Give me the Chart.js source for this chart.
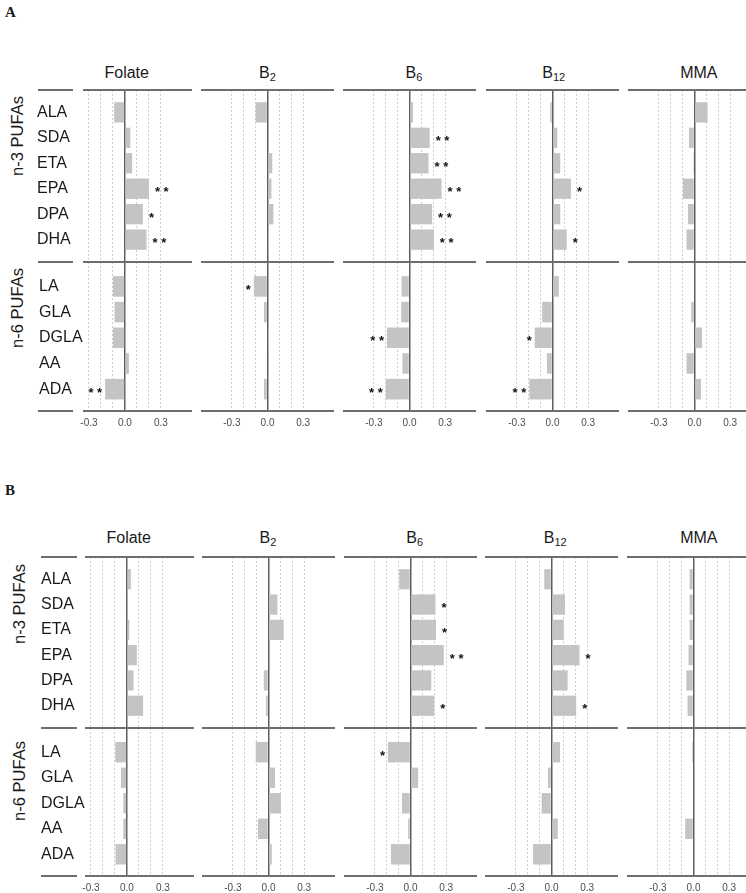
<!DOCTYPE html>
<html>
<head>
<meta charset="utf-8">
<script src="https://cdn.jsdelivr.net/npm/chart.js@4/dist/chart.umd.min.js"></script>
<style>
  html, body { margin: 0; padding: 0; background: #fff; }
  #root { position: relative; width: 746px; height: 893px; overflow: hidden;
          font-family: 'Liberation Sans', Arial, sans-serif; color: #1a1a1a; }
  .hline { position: absolute; height: 2px; background: #6e6e6e; }
  .title { position: absolute; width: 160px; text-align: center; font-size: 16px; line-height: 20px; white-space: nowrap; }
  .title sub { font-size: 11px; vertical-align: -3px; line-height: 0; }
  .glabel { position: absolute; font-size: 16.5px; white-space: nowrap; transform: translate(-50%, -50%) rotate(-90deg); }
  .letter { position: absolute; font-family: 'Liberation Serif', 'Times New Roman', serif; font-weight: bold; font-size: 15px; }
</style>
</head>
<body>
<div id="root"></div>
<script>
// ---------------- DATA ----------------
const fattyAcidsN3 = ['ALA', 'SDA', 'ETA', 'EPA', 'DPA', 'DHA'];
const fattyAcidsN6 = ['LA', 'GLA', 'DGLA', 'AA', 'ADA'];
const groupNames = ['n-3 PUFAs', 'n-6 PUFAs'];
const vitaminNames = ['Folate', 'B2', 'B6', 'B12', 'MMA'];
const panelNames = ['A', 'B'];
const xTickValues = [-0.3, -0.2, -0.1, 0, 0.1, 0.2, 0.3];
const xTickLabels = ['-0.3', '', '', '0.0', '', '', '0.3'];

// Panel A — order: ALA, SDA, ETA, EPA, DPA, DHA, LA, GLA, DGLA, AA, ADA
const A_Folate = [-0.09, 0.045, 0.06, 0.20, 0.15, 0.18, -0.10, -0.087, -0.10, 0.033, -0.165];
const A_B2     = [-0.10, 0.0, 0.04, 0.033, 0.05, 0.01, -0.115, -0.03, 0.01, 0.0, -0.03];
const A_B6     = [0.03, 0.17, 0.16, 0.27, 0.19, 0.205, -0.067, -0.07, -0.19, -0.06, -0.20];
const A_B12    = [-0.02, 0.04, 0.065, 0.155, 0.065, 0.12, 0.053, -0.087, -0.15, -0.047, -0.195];
const A_MMA    = [0.11, -0.047, -0.01, -0.097, -0.055, -0.067, 0.0, -0.028, 0.064, -0.067, 0.055];

const A_Folate_sig = ['', '', '', '**', '*', '**', '', '', '', '', '**'];
const A_B2_sig     = ['', '', '', '', '', '', '*', '', '', '', ''];
const A_B6_sig     = ['', '**', '**', '**', '**', '**', '', '', '**', '', '**'];
const A_B12_sig    = ['', '', '', '*', '', '*', '', '', '*', '', '**'];
const A_MMA_sig    = ['', '', '', '', '', '', '', '', '', '', ''];

// Panel B
const B_Folate = [0.033, 0.0, 0.02, 0.083, 0.055, 0.135, -0.097, -0.05, -0.03, -0.03, -0.095];
const B_B2     = [0.0, 0.075, 0.128, 0.0, -0.04, -0.022, -0.108, 0.055, 0.105, -0.089, 0.028];
const B_B6     = [-0.095, 0.21, 0.215, 0.28, 0.175, 0.20, -0.19, 0.064, -0.072, -0.02, -0.165];
const B_B12    = [-0.061, 0.114, 0.103, 0.236, 0.136, 0.208, 0.072, -0.03, -0.083, 0.053, -0.155];
const B_MMA    = [-0.033, -0.033, -0.033, -0.042, -0.061, -0.05, -0.012, 0.0, 0.0, -0.07, 0.0];

const B_Folate_sig = ['', '', '', '', '', '', '', '', '', '', ''];
const B_B2_sig     = ['', '', '', '', '', '', '', '', '', '', ''];
const B_B6_sig     = ['', '*', '*', '**', '', '*', '*', '', '', '', ''];
const B_B12_sig    = ['', '', '', '*', '', '*', '', '', '', '', ''];
const B_MMA_sig    = ['', '', '', '', '', '', '', '', '', '', ''];

const panelValues = [
  [A_Folate, A_B2, A_B6, A_B12, A_MMA],
  [B_Folate, B_B2, B_B6, B_B12, B_MMA]
];
const panelSig = [
  [A_Folate_sig, A_B2_sig, A_B6_sig, A_B12_sig, A_MMA_sig],
  [B_Folate_sig, B_B2_sig, B_B6_sig, B_B12_sig, B_MMA_sig]
];

// ---------------- LAYOUT / STYLE ----------------
const LAYOUT = [
  { letter: [5, 4], titleY: 72.5, titleX: [126.7, 267.5, 414, 553.8, 698.8],
    lines: [90, 262, 411], boxL: [83, 201, 343, 486, 628], boxR: [192, 334, 476, 619, 761],
    labelL: [37, 39], labelLine: [38, 73], gLabel: [[17, 136], [17, 307.5]] },
  { letter: [5, 482], titleY: 538, titleX: [128.7, 268, 414.7, 555.3, 698.8],
    lines: [557, 728, 876], boxL: [85, 202, 344, 485, 627], boxR: [194, 335, 477, 618, 760],
    labelL: [41, 41], labelLine: [41, 77], gLabel: [[18.5, 604], [19, 781]] }
];
const Y_RANGE = [[-0.88, 5.88], [-0.95, 4.85]];
const X_RANGE = [-0.56, 0.56];
const X_RANGE_FIRST = [-0.35, 0.56];
const BAR_COLOR = '#c4c4c4';
const GRID_COLOR = '#cdcdcd';
const ZERO_COLOR = '#5e5e5e';
const FONT = "'Liberation Sans', Arial, sans-serif";

Chart.defaults.font.family = FONT;

const starPlugin = {
  id: 'stars',
  afterDatasetsDraw(chart, args, opts) {
    const sig = opts.sig;
    if (!sig) return;
    const meta = chart.getDatasetMeta(0);
    const data = chart.data.datasets[0].data;
    const ctx = chart.ctx;
    ctx.save();
    ctx.font = 'bold 13px ' + FONT;
    ctx.fillStyle = '#111';
    ctx.textBaseline = 'alphabetic';
    meta.data.forEach((bar, i) => {
      const s = sig[i];
      if (!s) return;
      const txt = s.split('').join(' ');
      const pos = data[i].x >= 0;
      ctx.textAlign = pos ? 'left' : 'right';
      ctx.fillText(txt, pos ? bar.x + 6 : bar.x - 3, bar.y + 7.5);
    });
    ctx.restore();
  }
};

const root = document.getElementById('root');

function addDiv(cls, css, html) {
  const d = document.createElement('div');
  d.className = cls;
  d.style.cssText = css;
  if (html !== undefined) d.innerHTML = html;
  root.appendChild(d);
  return d;
}

function titleHTML(name) {
  const m = name.match(/^B(\d+)$/);
  return m ? 'B<sub>' + m[1] + '</sub>' : name;
}

function buildChart(p, g, c) {
  const L = LAYOUT[p];
  const cats = g === 0 ? fattyAcidsN3 : fattyAcidsN6;
  const start = g === 0 ? 0 : fattyAcidsN3.length;
  const vals = panelValues[p][c].slice(start, start + cats.length);
  const sig = panelSig[p][c].slice(start, start + cats.length);
  const top = L.lines[g];
  const areaH = L.lines[g + 1] - top;
  const xAxisH = g === 1 ? 22 : 0;
  const showY = c === 0;
  const left = showY ? L.labelL[g] : L.boxL[c];
  const yW = showY ? L.boxL[0] - L.labelL[g] : 0;
  const width = L.boxR[c] - left;
  const height = areaH + xAxisH;
  const xr = c === 0 ? X_RANGE_FIRST : X_RANGE;
  const yr = Y_RANGE[g];

  const canvas = document.createElement('canvas');
  canvas.width = width;
  canvas.height = height;
  canvas.style.cssText = `position:absolute;left:${left}px;top:${top}px;width:${width}px;height:${height}px;`;
  root.appendChild(canvas);

  const isZero = ctx => ctx.tick && ctx.tick.value === 0;

  new Chart(canvas, {
    type: 'bar',
    data: {
      datasets: [{
        data: vals.map((v, i) => ({ x: v, y: i })),
        backgroundColor: BAR_COLOR,
        borderWidth: 0,
        categoryPercentage: 0.8,
        barPercentage: 1.0
      }]
    },
    options: {
      indexAxis: 'y',
      responsive: false,
      animation: false,
      events: [],
      devicePixelRatio: 1,
      layout: { padding: 0, autoPadding: false },
      plugins: {
        legend: { display: false },
        tooltip: { enabled: false },
        title: { display: false },
        stars: { sig: sig }
      },
      scales: {
        x: {
          type: 'linear',
          position: 'bottom',
          min: xr[0],
          max: xr[1],
          offset: false,
          afterBuildTicks: s => { s.ticks = xTickValues.map(v => ({ value: v })); },
          afterFit: s => { s.height = xAxisH; s.paddingLeft = 0; s.paddingRight = 0; },
          ticks: {
            display: g === 1,
            autoSkip: false,
            maxRotation: 0,
            padding: 6,
            color: '#4d4d4d',
            font: { size: 10 },
            callback: (v, i) => xTickLabels[i]
          },
          grid: {
            offset: false,
            drawTicks: false,
            color: ctx => isZero(ctx) ? ZERO_COLOR : GRID_COLOR,
            lineWidth: ctx => isZero(ctx) ? 1.5 : 1
          },
          border: {
            display: false,
            dash: ctx => isZero(ctx) ? [] : [2, 2]
          }
        },
        y: {
          type: 'linear',
          reverse: true,
          min: yr[0],
          max: yr[1],
          offset: false,
          display: showY,
          afterBuildTicks: s => { s.ticks = cats.map((_, i) => ({ value: i })); },
          afterFit: s => { s.width = yW; s.paddingTop = 0; s.paddingBottom = 0; },
          ticks: {
            crossAlign: 'far',
            autoSkip: false,
            color: '#1a1a1a',
            font: { size: 16 },
            callback: (v, i) => cats[i]
          },
          grid: { display: false, offset: false },
          border: { display: false }
        }
      }
    },
    plugins: [starPlugin]
  });
}

panelNames.forEach((name, p) => {
  const L = LAYOUT[p];
  addDiv('letter', `left:${L.letter[0]}px;top:${L.letter[1]}px;`, name);
  vitaminNames.forEach((v, c) => {
    addDiv('title', `left:${L.titleX[c] - 80}px;top:${L.titleY - 10}px;`, titleHTML(v));
  });
  for (let g = 0; g < 2; g++) {
    for (let c = 0; c < vitaminNames.length; c++) buildChart(p, g, c);
  }
  L.lines.forEach(y => {
    addDiv('hline', `left:${L.labelLine[0]}px;top:${y - 1}px;width:${L.labelLine[1] - L.labelLine[0]}px;`);
    for (let c = 0; c < vitaminNames.length; c++) {
      addDiv('hline', `left:${L.boxL[c]}px;top:${y - 1}px;width:${L.boxR[c] - L.boxL[c]}px;`);
    }
  });
  groupNames.forEach((gn, g) => {
    addDiv('glabel', `left:${L.gLabel[g][0]}px;top:${L.gLabel[g][1]}px;`, gn);
  });
});
</script>
</body>
</html>
